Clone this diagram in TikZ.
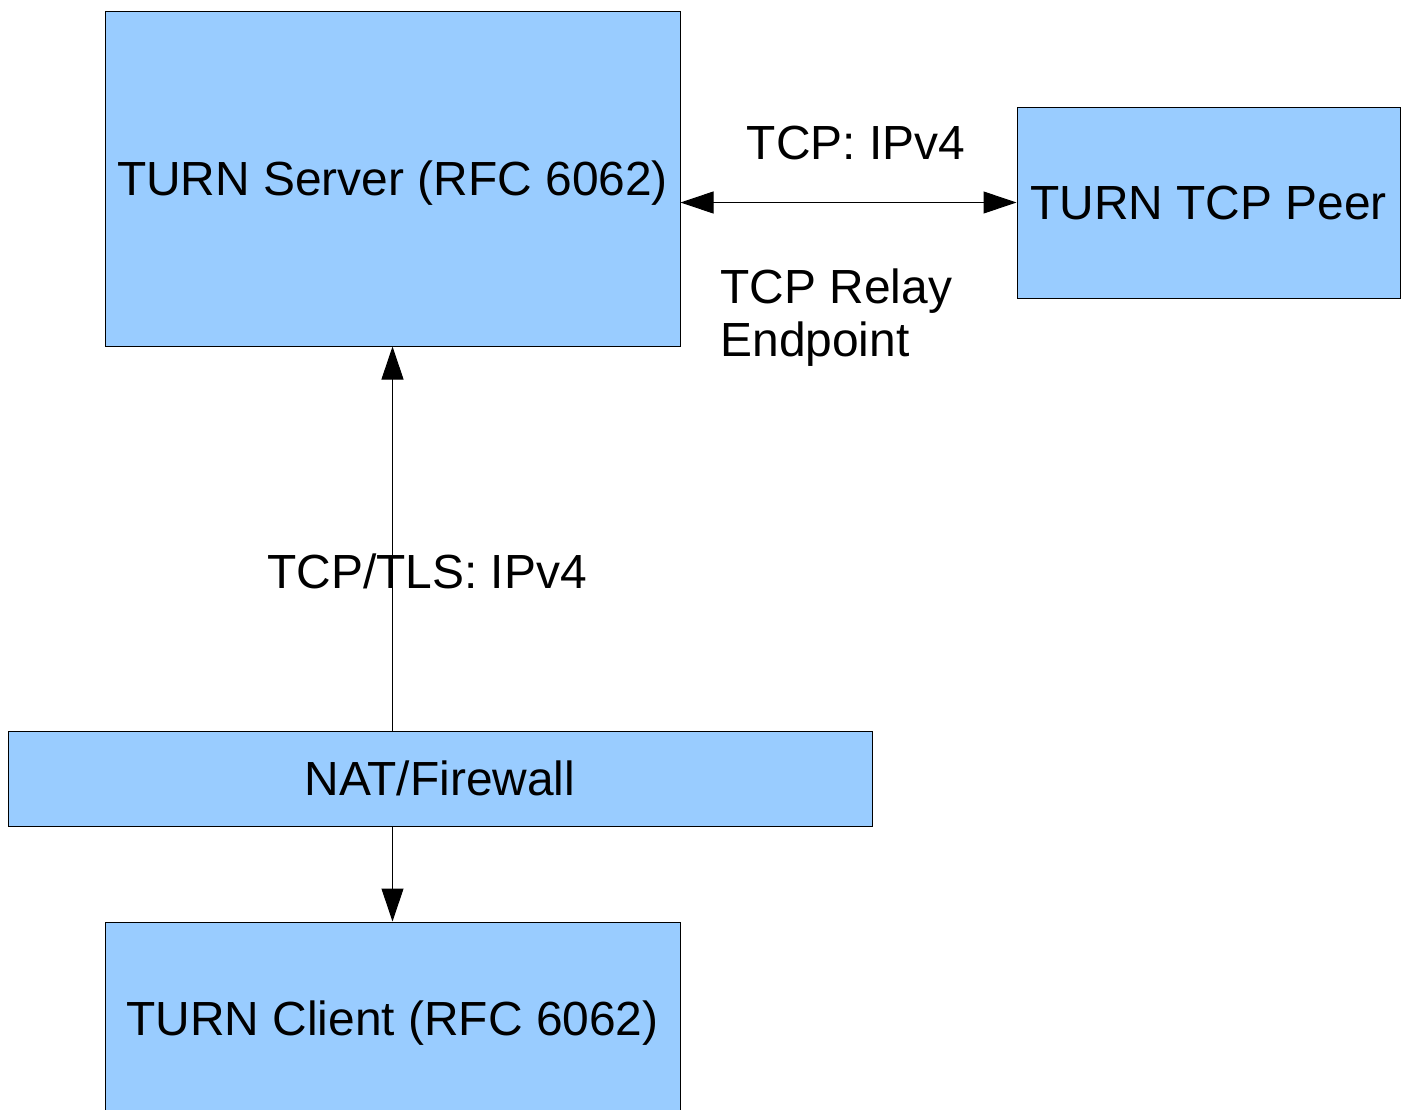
\documentclass[tikz,border=0pt]{standalone}
\usepackage{fontspec}
\setmainfont{Liberation Sans}
\usetikzlibrary{arrows.meta}
\definecolor{boxblue}{HTML}{99CCFF}
\begin{document}
\begin{tikzpicture}[x=0.5pt,y=-0.5pt, >={Triangle[length=16.5pt,width=11pt]}, line width=0.5pt]
        \useasboundingbox (0,0) rectangle (1408,1109);
        \tikzset{every node/.style={font=\fontsize{23.95}{26.5}\selectfont, inner sep=0pt}};
        \scoped{
                \tikzstyle{box}=[draw, fill=boxblue, rectangle, text depth=0pt];
                \node (server) [box, minimum width=287.5pt, minimum height=167.5pt] at (392.5,178.5) {TURN Server (RFC 6062)};
                \node (peer) [box, minimum width=191.5pt, minimum height=95.5pt] at (1208.5,202.5) {TURN TCP Peer};
                \node (nat) [box, minimum width=432pt, minimum height=47.5pt] at (440,778.5) {NAT/Firewall};
                \node (client) [box, minimum width=287.5pt, minimum height=96pt] at (392.5,1018) {TURN Client (RFC 6062)};
            };
            \draw[<->] (server.east |- peer.west) -- (peer.west);
            \draw[->] (nat.north -| server.south) -- (server.south);
            \draw[->] (nat.south -| client.north) -- (client.north);

            \path (856,143) node (tcplabel) {TCP: IPv4};
            \path (720,318) node (relaylabel) [anchor=west, align=left] {TCP Relay\\Endpoint};
            \path (427,571) node (tlslabel) {TCP/TLS: IPv4};
    \end{tikzpicture}
\end{document}
